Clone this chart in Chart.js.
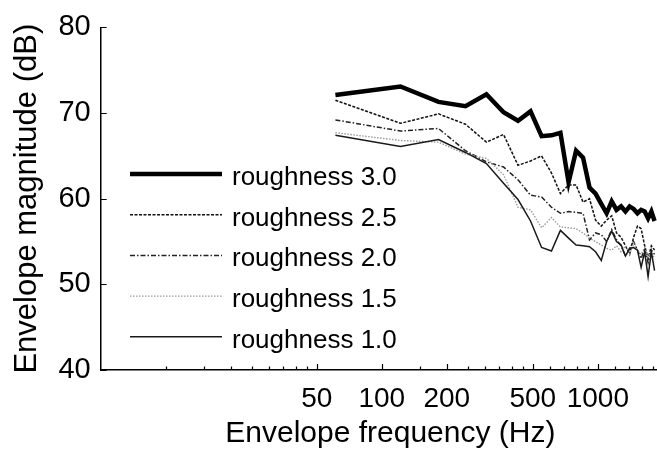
<!DOCTYPE html>
<html>
<head>
<meta charset="utf-8">
<script src="https://cdn.jsdelivr.net/npm/chart.js@4.4.1/dist/chart.umd.min.js"></script>
<style>
  html, body { margin: 0; padding: 0; background: #fff; }
  #wrap { width: 657px; height: 449px; overflow: hidden; }
  canvas { display: block; }
</style>
</head>
<body>
<div id="wrap"><canvas id="envChart" width="680" height="449"></canvas></div>
<script>
// envelope frequency bins (Hz)
const freqs = [61, 122, 183, 244, 305, 366, 427, 488, 549, 610,
               671, 732, 793, 854, 915, 976, 1037, 1098, 1159, 1220,
               1281, 1342, 1403, 1464, 1525, 1586, 1647, 1708, 1769, 1830];

const rough30 = [72.1, 73.1, 71.3, 70.8, 72.2, 70.1, 69.1, 70.2, 67.3, 67.4,
                 67.7, 61.9, 65.6, 64.8, 61.3, 60.6, 59.4, 58.3, 59.7, 58.7,
                 59.1, 58.5, 59.1, 58.8, 58.3, 58.7, 58.5, 57.7, 58.5, 57.4];
const rough25 = [71.5, 68.8, 69.9, 68.7, 66.6, 67.5, 63.9, 64.4, 65.0, 63.0,
                 60.6, 61.6, 61.6, 59.6, 60.0, 57.5, 56.8, 57.5, 58.0, 56.0,
                 55.5, 54.5, 53.5, 55.5, 56.8, 56.5, 54.5, 53.0, 54.5, 54.0];
const rough20 = [69.2, 67.9, 68.2, 65.6, 64.3, 63.7, 62.2, 60.4, 60.2, 59.0,
                 58.3, 58.5, 58.4, 58.3, 55.2, 56.0, 55.8, 55.0, 56.4, 55.2,
                 54.5, 53.3, 54.2, 55.0, 54.0, 53.0, 54.2, 52.5, 54.0, 53.5];
const rough15 = [67.7, 66.8, 66.6, 65.2, 64.7, 62.8, 59.0, 58.7, 56.6, 57.8,
                 56.7, 56.6, 56.5, 56.0, 55.4, 55.0, 54.6, 54.2, 54.0, 54.5,
                 53.8, 54.5, 53.5, 54.8, 54.0, 53.5, 54.3, 53.2, 53.8, 53.0];
const rough10 = [67.4, 66.1, 66.9, 65.4, 64.1, 61.8, 59.9, 57.4, 54.3, 53.9,
                 56.3, 55.4, 54.6, 54.5, 54.4, 53.8, 52.8, 55.0, 56.2, 55.0,
                 54.6, 53.3, 54.2, 54.3, 54.0, 52.0, 53.8, 50.9, 53.8, 51.6];

const seriesLabels = ['roughness 3.0', 'roughness 2.5', 'roughness 2.0', 'roughness 1.5', 'roughness 1.0'];

const xMajor = [50, 100, 200, 500, 1000];
const xMinor = [10, 15, 20, 25, 30, 35, 40, 45,
                150, 250, 300, 350, 400, 450,
                600, 700, 800, 900, 1200, 1400, 1600, 1800, 2000];
const yTicks = [40, 50, 60, 70, 80];

const toPts = vals => freqs.map((f, i) => ({ x: f, y: vals[i] }));

const styles = [
  { color: '#000000', width: 4.5, dash: [] },
  { color: '#111111', width: 1.5, dash: [3, 1.5] },
  { color: '#222222', width: 1.5, dash: [5, 2, 1.5, 2] },
  { color: '#9a9a9a', width: 1.4, dash: [1.5, 1.5] },
  { color: '#1a1a1a', width: 1.5, dash: [] },
];
const allVals = [rough30, rough25, rough20, rough15, rough10];

// inward tick marks + legend inside the plot
const decor = {
  id: 'decor',
  afterDraw(chart) {
    const { ctx, chartArea, scales } = chart;
    ctx.save();
    ctx.strokeStyle = '#000';
    ctx.lineWidth = 1.2;
    ctx.beginPath();
    xMajor.forEach(v => {
      const px = Math.round(scales.x.getPixelForValue(v)) + 0.5;
      ctx.moveTo(px, chartArea.bottom); ctx.lineTo(px, chartArea.bottom - 6);
    });
    xMinor.forEach(v => {
      const px = Math.round(scales.x.getPixelForValue(v)) + 0.5;
      ctx.moveTo(px, chartArea.bottom); ctx.lineTo(px, chartArea.bottom - 3.5);
    });
    yTicks.forEach(v => {
      const py = Math.round(scales.y.getPixelForValue(v)) + 0.5;
      ctx.moveTo(chartArea.left, py); ctx.lineTo(chartArea.left + 6, py);
    });
    ctx.stroke();

    // legend
    ctx.font = '26px "Liberation Sans", Arial, sans-serif';
    ctx.textBaseline = 'alphabetic';
    ctx.fillStyle = '#000';
    chart.data.datasets.forEach((ds, i) => {
      const y = 174 + i * 40.7;
      ctx.beginPath();
      ctx.strokeStyle = ds.borderColor;
      ctx.lineWidth = ds.borderWidth;
      ctx.setLineDash(ds.borderDash || []);
      ctx.moveTo(130, y); ctx.lineTo(222, y);
      ctx.stroke();
      ctx.setLineDash([]);
      ctx.fillText(ds.label, 232, y + 11);
    });
    ctx.restore();
  }
};

new Chart(document.getElementById('envChart'), {
  type: 'line',
  data: {
    datasets: allVals.map((vals, i) => ({
      label: seriesLabels[i],
      data: toPts(vals),
      borderColor: styles[i].color,
      borderWidth: styles[i].width,
      borderDash: styles[i].dash,
      pointRadius: 0,
      tension: 0,
      fill: false,
      order: 4 - i,
    }))
  },
  options: {
    responsive: false,
    animation: false,
    layout: { padding: { top: 24, left: 0, right: 0, bottom: 0 } },
    plugins: { legend: { display: false }, tooltip: { enabled: false } },
    scales: {
      x: {
        type: 'logarithmic',
        min: 5,
        max: 2400,
        afterBuildTicks: s => { s.ticks = xMajor.map(v => ({ value: v })); },
        afterFit: s => { s.height = 79; },
        grid: { display: true, drawOnChartArea: false, drawTicks: false },
        border: { display: true, color: '#000', width: 1.5 },
        ticks: {
          autoSkip: false, maxRotation: 0, padding: 12,
          color: '#000',
          font: { family: '"Liberation Sans", Arial, sans-serif', size: 28 },
          callback: v => String(v)
        },
        title: {
          display: true, text: 'Envelope frequency (Hz)', color: '#000',
          font: { family: '"Liberation Sans", Arial, sans-serif', size: 30 },
          padding: { top: 0, bottom: -3 }
        }
      },
      y: {
        min: 40,
        max: 80,
        afterBuildTicks: s => { s.ticks = yTicks.map(v => ({ value: v })); },
        afterFit: s => { s.width = 100.7; },
        grid: { display: true, drawOnChartArea: false, drawTicks: false },
        border: { display: true, color: '#000', width: 1.5 },
        ticks: {
          padding: 10, color: '#000',
          font: { family: '"Liberation Sans", Arial, sans-serif', size: 29 }
        },
        title: {
          display: true, text: 'Envelope magnitude (dB)', color: '#000',
          font: { family: '"Liberation Sans", Arial, sans-serif', size: 31 },
          padding: { top: 9, bottom: 0 }
        }
      }
    }
  },
  plugins: [decor]
});
</script>
</body>
</html>
